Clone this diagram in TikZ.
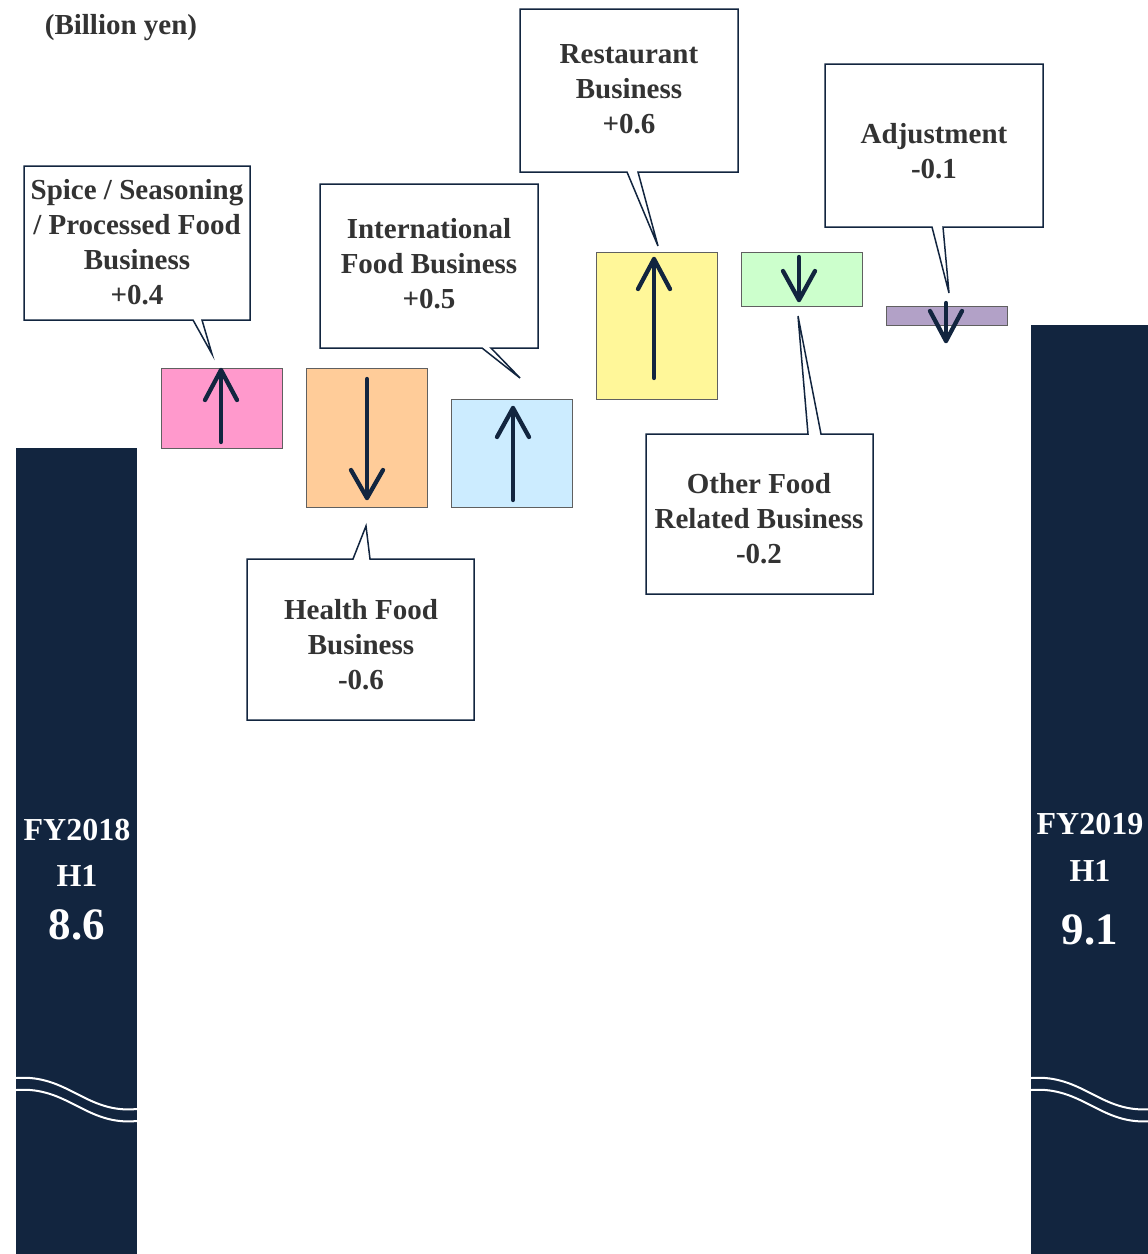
\documentclass[tikz,border=0pt]{standalone}
\usepackage{fontspec}
\setmainfont{Liberation Serif}
\definecolor{navy}{HTML}{12253F}
\definecolor{txt}{HTML}{333333}
\definecolor{cpink}{HTML}{FF99CC}
\definecolor{corange}{HTML}{FFCC99}
\definecolor{cblue}{HTML}{CCECFF}
\definecolor{cyellow}{HTML}{FFF799}
\definecolor{cgreen}{HTML}{CCFFCC}
\definecolor{cpurple}{HTML}{B2A1C7}
\begin{document}
\begin{tikzpicture}[x=1pt,y=-1pt,
  bar/.style={fill=navy,draw=none},
  wave/.style={draw=white,line width=2pt},
  barlabel/.style={text=white,font=\fontsize{32}{38}\selectfont\bfseries,inner sep=0pt},
  barvalue/.style={text=white,font=\fontsize{45}{50}\selectfont\bfseries,inner sep=0pt},
  delta/.style={draw=gray!75!black,line width=0.8pt},
  move/.style={draw=navy,line width=4.3pt,line cap=round,line join=round},
  callout/.style={draw=navy,fill=white,line width=1.5pt,line join=miter},
  ctext/.style={text=txt,align=center,inner sep=0pt,font=\fontsize{29}{35}\selectfont\bfseries}]
\useasboundingbox (0,0) rectangle (1148,1254);

% unit label
\node[text=txt,inner sep=0pt,font=\fontsize{29}{35}\selectfont\bfseries] (unit) at (121,28) {(Billion yen)};

% start and end bars
\path[bar] (16,448) rectangle (137,1254);
\path[bar] (1031,325) rectangle (1148,1254);
\draw[wave] (16,1078) .. controls (68,1074) and (86,1114) .. (137,1109);
\draw[wave] (16,1090) .. controls (68,1086) and (86,1126) .. (137,1121);
\draw[wave] (1031,1078) .. controls (1083,1074) and (1101,1114) .. (1152,1109);
\draw[wave] (1031,1090) .. controls (1083,1086) and (1101,1126) .. (1152,1121);

\node[barlabel] (l1) at (77,830) {FY2018};
\node[barlabel] (l2) at (77,876) {H1};
\node[barvalue] (l3) at (77,925) {8.6};
\node[barlabel] (r1) at (1090,824) {FY2019};
\node[barlabel] (r2) at (1090,871) {H1};
\node[barvalue] (r3) at (1090,930) {9.1};

% segment deltas
\path[delta,fill=cpink]   (161,368) rectangle (282,448);
\path[delta,fill=corange] (306,368) rectangle (427,507);
\path[delta,fill=cblue]   (451,399) rectangle (572,507);
\path[delta,fill=cyellow] (596,252) rectangle (717,399);
\path[delta,fill=cgreen]  (741,252) rectangle (862,306);
\path[delta,fill=cpurple] (886,306) rectangle (1007,325);

% direction arrows
\draw[move] (221,442) -- (221,370);
\draw[move] (205,400) -- (221,370) -- (237,400);
\draw[move] (367,379) -- (367,498);
\draw[move] (351,470) -- (367,498) -- (383,470);
\draw[move] (513,500) -- (513,408);
\draw[move] (497,437) -- (513,408) -- (529,437);
\draw[move] (654,378) -- (654,259);
\draw[move] (638,289) -- (654,259) -- (670,289);
\draw[move] (799,257) -- (799,300);
\draw[move] (783,271) -- (799,300) -- (815,271);
\draw[move] (946,303) -- (946,341);
\draw[move] (930,311) -- (946,341) -- (962,311);

% callouts
\draw[callout] (24,166) -- (250,166) -- (250,320) -- (202,320) -- (212,354) -- (193,320) -- (24,320) -- cycle;
\draw[callout] (320,184) -- (538,184) -- (538,348) -- (491,348) -- (520,378) -- (482,348) -- (320,348) -- cycle;
\draw[callout] (520,9) -- (738,9) -- (738,172) -- (638,172) -- (658,246) -- (627,172) -- (520,172) -- cycle;
\draw[callout] (825,64) -- (1043,64) -- (1043,227) -- (943,227) -- (949,293) -- (932,227) -- (825,227) -- cycle;
\draw[callout] (247,559) -- (353,559) -- (366,526) -- (370,559) -- (474,559) -- (474,720) -- (247,720) -- cycle;
\draw[callout] (646,434) -- (808,434) -- (798,316) -- (821,434) -- (873,434) -- (873,594) -- (646,594) -- cycle;

\node[ctext] (spice) at (137,242) {Spice / Seasoning\\/ Processed Food\\Business\\+0.4};
\node[ctext] (intl) at (429,264) {International\\Food Business\\+0.5};
\node[ctext] (rest) at (629,89) {Restaurant\\Business\\+0.6};
\node[ctext] (adj) at (934,151) {Adjustment\\-0.1};
\node[ctext] (health) at (361,645) {Health Food\\Business\\-0.6};
\node[ctext] (other) at (759,519) {Other Food\\Related Business\\-0.2};
\end{tikzpicture}
\end{document}
